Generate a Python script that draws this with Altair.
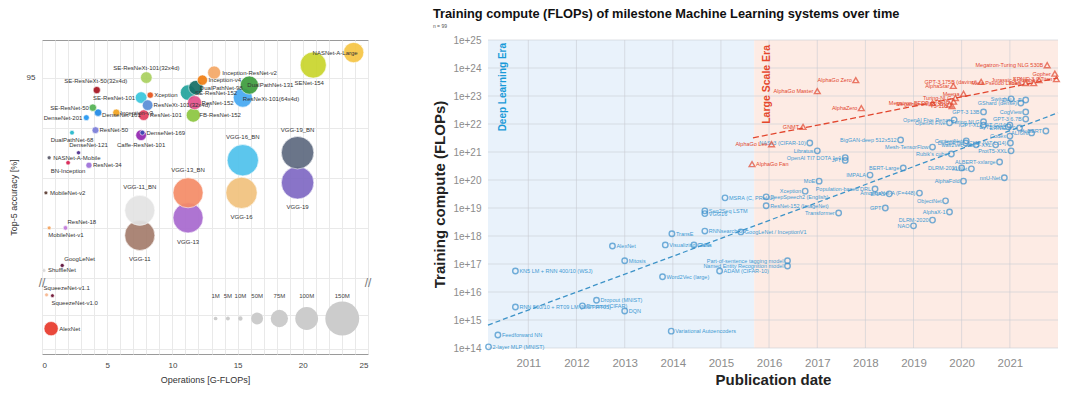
import altair as alt
import pandas as pd

FONT = "Liberation Sans"

# ---------------- Left panel: ImageNet models ----------------
NETS = ["VGG-11", "VGG-13", "VGG-16", "VGG-19", "VGG-11_BN", "VGG-13_BN", "VGG-16_BN", "VGG-19_BN",
        "SENet-154", "NASNet-A-Large", "ResNeXt-101(64x4d)", "DualPathNet-131", "Inception-ResNet-v2",
        "SE-ResNet-152", "DualPathNet-98", "FB-ResNet-152", "ResNet-152", "Inception-v4",
        "AlexNet", "SE-ResNet-101", "SE-ResNeXt-101(32x4d)", "Caffe-ResNet-101", "ResNet-101",
        "ResNeXt-101(32x4d)", "DenseNet-161", "SE-ResNet-50", "SE-ResNeXt-50(32x4d)", "Inception-v3",
        "ResNet-50", "Xception", "ResNet-34", "DenseNet-201", "DenseNet-169", "DualPathNet-68",
        "ResNet-18", "BN-Inception", "DenseNet-121", "GoogLeNet", "NASNet-A-Mobile", "MobileNet-v1",
        "MobileNet-v2", "ShuffleNet", "SqueezeNet-v1.0", "SqueezeNet-v1.1"]
OPS = [7.5, 11.2, 15.3, 19.6, 7.5, 11.2, 15.4, 19.6,
       20.8, 23.9, 15.4, 15.9, 13.2,
       11.2, 11.8, 11.6, 11.7, 12.3,
       0.7, 7.6, 8.0, 7.6, 7.8,
       8.1, 4.3, 3.9, 4.2, 5.7,
       4.1, 8.3, 3.6, 3.4, 7.7, 2.3,
       1.8, 2.0, 2.8, 1.55, 0.55, 0.55,
       0.3, 0.15, 0.8, 0.35]
ACC = [88.7, 89.4, 90.4, 90.8, 89.7, 90.4, 91.7, 92.0,
       95.5, 96.0, 94.2, 94.7, 95.2,
       94.4, 94.6, 93.5, 94.0, 94.9,
       78.7, 94.2, 95.0, 92.7, 93.5,
       93.9, 93.6, 93.8, 94.5, 93.6,
       92.9, 94.3, 91.5, 93.4, 92.8, 92.8,
       89.0, 91.6, 92.0, 87.5, 91.8, 89.0,
       90.4, 87.3, 80.65, 80.7]
PARAMS = [132.9, 133.0, 138.4, 143.7, 132.9, 133.0, 138.4, 143.7,
          115.1, 88.8, 83.5, 79.3, 55.8,
          66.8, 61.6, 60.3, 60.2, 42.7,
          61.0, 49.3, 49.0, 44.5, 44.5,
          44.2, 28.7, 28.1, 27.6, 27.2,
          25.6, 22.9, 21.8, 20.0, 14.1, 12.6,
          11.7, 11.3, 8.0, 7.0, 5.3, 4.2,
          3.5, 2.3, 1.2, 1.2]
PALETTE = ["#a47c6c", "#a869cf", "#f1c27d", "#7f69c4", "#e3e3e3", "#f58b67", "#4fc2ec", "#5e6a80",
           "#c9d52c", "#f6c544", "#45a9f3", "#3c9c3c", "#f5a866",
           "#22a39c", "#156e66", "#8cc63f", "#e3518b", "#f07d12",
           "#e8392b", "#38c6dc", "#aad15f", "#9325b0", "#e1405f",
           "#5a8dd6", "#1e88e5", "#52b152", "#a5121f", "#f2a21e",
           "#7b7dd9", "#e65219", "#9d6fd9", "#2196f3", "#3b4bb3", "#22b8cc",
           "#c27bd9", "#d81f4f", "#4b2b8c", "#5c0c36", "#585868", "#f4a25c",
           "#5b3b31", "#d9d9d9", "#6c0e2f", "#f7b58b"]

LEGEND_M = [1, 5, 10, 50, 75, 100, 150]
LEGEND_TXT = ["1M", "5M", "10M", "50M", "75M", "100M", "150M"]

X_GRID = list(range(26))
Y_GRID = [77.5 + 0.5 * i for i in range(8)] + [87 + 0.5 * i for i in range(20)]

# label placement (align, dx, dy) — style only
LABEL_STYLE = {
    "SE-ResNeXt-101(32x4d)": ("center", 0, -10), "SE-ResNeXt-50(32x4d)": ("center", -1, -9),
    "SE-ResNet-101": ("right", -6, 0), "SE-ResNet-50": ("right", -4, 0), "DenseNet-201": ("right", -4, 0),
    "NASNet-A-Large": ("right", 4, 0), "DenseNet-121": ("center", 10, -8),
    "Caffe-ResNet-101": ("center", 0, 10), "DualPathNet-68": ("center", 0, 7), "BN-Inception": ("center", 0, 8),
    "SENet-154": ("center", -4, 18), "ResNet-18": ("left", 2, -6), "GoogLeNet": ("left", 2, -6),
    "SqueezeNet-v1.1": ("left", -3, -7), "MobileNet-v1": ("left", -1, 7), "SqueezeNet-v1.0": ("left", -1, 7),
    "VGG-11_BN": ("center", 0, -23), "VGG-13_BN": ("center", 0, -23), "VGG-16_BN": ("center", 0, -23),
    "VGG-19_BN": ("center", 0, -23), "VGG-11": ("center", 0, 24), "VGG-13": ("center", 0, 24),
    "VGG-16": ("center", 0, 24), "VGG-19": ("center", 0, 24),
    "ResNeXt-101(32x4d)": ("left", 6, 0), "ResNet-101": ("left", 6, 0), "DenseNet-161": ("left", 4, 2),
    "Inception-ResNet-v2": ("left", 8, 0), "Inception-v4": ("left", 6, 0), "DualPathNet-131": ("left", -2, 0),
    "SE-ResNet-152": ("left", 7, 0), "ResNeXt-101(64x4d)": ("left", 0, 1), "ResNet-152": ("left", 7, 0),
    "FB-ResNet-152": ("left", 6, 0), "AlexNet": ("left", 8, 0),
}
DEFAULT_STYLE = ("left", 4, 0)

left_df = pd.DataFrame({"net": NETS, "ops": OPS, "acc": ACC, "params": PARAMS})

xL = alt.X("ops:Q", scale=alt.Scale(domain=[0, 25], nice=False, zero=False),
           axis=alt.Axis(values=X_GRID, labelExpr="datum.value % 5 == 0 ? datum.label : ''",
                         title="Operations [G-FLOPs]", titleFontSize=9, titleFontWeight="normal",
                         titleColor="#333", labelFontSize=8, labelColor="#444", labelPadding=7,
                         titlePadding=6, ticks=False, domain=False, gridColor="#e9e9e9",
                         labelOverlap=False))
yL = alt.Y("acc:Q", scale=alt.Scale(domain=[77.2, 81.4, 86.8, 96.5], range=[314, 243, 243, 0],
                                    nice=False, zero=False),
           axis=alt.Axis(values=Y_GRID,
                         labelExpr="indexof([80, 90, 95], datum.value) >= 0 ? datum.label : ''",
                         title="Top-5 accuracy [%]", titleFontSize=9, titleFontWeight="normal",
                         titleColor="#333", labelFontSize=8, labelColor="#444", labelPadding=7,
                         titlePadding=8, ticks=False, domain=False, gridColor="#e9e9e9",
                         labelOverlap=False))
sizeL = alt.Size("params:Q", scale=alt.Scale(type="pow", exponent=2, domain=[0, 150], range=[14, 1150]),
                 legend=None)

bubbles = alt.Chart(left_df).mark_circle(opacity=0.92, stroke="white", strokeWidth=0.6).encode(
    x=xL, y=yL, size=sizeL,
    color=alt.Color("net:N", scale=alt.Scale(domain=NETS, range=PALETTE), legend=None))

groups = {}
for n in NETS:
    groups.setdefault(LABEL_STYLE.get(n, DEFAULT_STYLE), []).append(n)
label_layers = []
for (al, dx, dy), names in groups.items():
    label_layers.append(
        alt.Chart(left_df).transform_filter(alt.FieldOneOfPredicate(field="net", oneOf=names))
        .mark_text(align=al, dx=dx, dy=dy, fontSize=6, color="#333", baseline="middle")
        .encode(x=xL, y=yL, text="net:N"))

# in-plot size legend: circles laid out side by side from their own diameters
leg_df = pd.DataFrame({"params": LEGEND_M, "txt": LEGEND_TXT})
leg_base = alt.Chart(leg_df).transform_calculate(
    d="2*sqrt((14 + 1136*pow(datum.params/150, 2))/PI)/13",
    g="(8 - 0.045*datum.params)/13"
).transform_calculate(full="datum.d + datum.g").transform_window(
    cum="sum(full)", sort=[alt.SortField("params")]).transform_calculate(
    ops="13.15 + datum.cum - datum.d/2 - datum.g", acc="79.3", lacc="80.65")
leg_circles = leg_base.mark_circle(color="#cccccc", opacity=1).encode(x=xL, y=yL, size=sizeL)
leg_text = leg_base.mark_text(fontSize=6, color="#444").encode(
    x=xL, y=alt.Y("lacc:Q"), text="txt:N")

brk_df = pd.DataFrame({"ops": [0, 25], "acc": [84, 84], "t": ["//", "//"]})
breaks = alt.Chart(brk_df).mark_text(fontSize=12, color="#777").encode(x=xL, y=yL, text="t:N")

left = alt.layer(bubbles, *label_layers, leg_circles, leg_text, breaks).properties(
    width=326, height=314,
    view=alt.ViewBackground(stroke="#9a9a9a", strokeWidth=1, strokeOpacity=1))

# ---------------- Right panel: training compute ----------------
BLUE_NAMES = ["2-layer MLP (MNIST)", "Feedforward NN", "RNN 500/10 + RT09 LM (NIST RT05)",
              "KN5 LM + RNN 400/10 (WSJ)", "Dropout (CIFAR)", "Dropout (MNIST)", "DQN", "Mitosis",
              "AlexNet", "Word2Vec (large)", "Variational Autoencoders", "Visualizing CNNs", "Caffe",
              "TransE", "Seq2Seq LSTM", "VGG16", "RNNsearch-50*", "GoogLeNet / InceptionV1",
              "MSRA (C, PReLU)", "ADAM (CIFAR-10)", "Part-of-sentence tagging model",
              "Named Entity Recognition model", "DeepSpeech2 (English)", "ResNet-152 (ImageNet)",
              "Xception", "Transformer", "NASv3 (CIFAR-10)", "Libratus", "OpenAI TI7 DOTA 1v1", "JFT",
              "MoE", "Population-based DRL", "ENAS", "AmoebaNet-A (F=448)", "GPT", "IMPALA",
              "BERT-Large", "BigGAN-deep 512x512", "Mesh-TensorFlow", "Rubik's cube", "DLRM-2020", "NAO",
              "AlphaX-1", "ObjectNet", "AlphaFold", "ALBERT-xxlarge", "DLRM-2021", "XLNet", "nnU-Net",
              "OpenAI Five", "iGPT-XL", "ViT-G/14", "ERNIE 3.0", "ALIGN", "HuBERT", "Codex",
              "CLIP (ViT L/14)", "ProtT5-XXL", "ContextNet", "wav2vec 2.0", "mT5-XXL", "Switch", "DALL-E",
              "GShard (dense)", "GPT-3 13B", "CogView", "GPT-3 6.7B", "OpenAI Five Rerun", "Turing NLG",
              "ByT5-XXL", "DeBERTa"]
BLUE_DATES = ["2010-03-05", "2010-05-15", "2010-09-25", "2010-09-25", "2012-02-15", "2012-06-01",
              "2013-01-01", "2013-01-01", "2012-09-30", "2013-10-15", "2013-12-20", "2013-11-05",
              "2014-06-10", "2013-12-25", "2014-09-01", "2014-09-01", "2014-09-01", "2015-06-01",
              "2015-02-01", "2014-12-22", "2016-05-20", "2016-05-20", "2015-12-10", "2015-12-10",
              "2016-10-01", "2017-06-12", "2016-11-05", "2017-01-01", "2017-08-01", "2017-08-01",
              "2017-01-15", "2018-03-15", "2018-07-01", "2019-02-15", "2018-06-01", "2018-02-05",
              "2018-10-15", "2018-09-25", "2019-05-25", "2019-10-15", "2019-05-25", "2019-01-01",
              "2019-10-01", "2019-09-01", "2020-01-15", "2020-10-15", "2020-01-01", "2020-03-15",
              "2020-11-20", "2019-10-01", "2020-06-15", "2021-01-01", "2021-03-15", "2021-06-15",
              "2021-10-01", "2021-01-01", "2021-01-05", "2021-01-10", "2020-02-05", "2020-04-20",
              "2020-09-15", "2021-01-10", "2021-05-01", "2021-03-25", "2020-06-15", "2021-05-01",
              "2021-05-01", "2019-11-05", "2020-06-15", "2020-12-20", "2020-02-01"]
BLUE_FLOPS = [1.1e14, 2.9e14, 2.9e15, 5.6e16, 3.2e15, 5.1e15, 2.1e15, 1.3e17, 4.4e17, 3.5e16,
              4.0e14, 4.8e17, 4.8e17, 1.2e18, 7.9e18, 6.3e18, 1.5e18, 1.4e18, 2.3e19, 5.6e16,
              1.3e17, 8.5e16, 2.5e19, 1.2e19, 4.0e19, 6.6e18, 2.1e21, 1.1e21, 6.3e20, 5.0e20,
              9.1e19, 4.8e19, 3.2e19, 3.4e19, 1.0e19, 1.5e20, 2.7e20, 2.7e21, 1.5e21, 8.5e20,
              3.7e18, 2.3e18, 7.2e18, 1.8e19, 9.1e19, 4.4e20, 2.7e20, 2.5e20, 1.2e20, 1.1e22,
              9.1e21, 9.1e21, 7.2e21, 4.8e21, 5.6e21, 3.7e21, 2.1e21, 1.1e21, 2.5e21, 1.8e21,
              1.8e21, 7.9e22, 7.2e22, 5.6e22, 2.7e22, 2.7e22, 1.5e22, 1.4e22, 1.2e22, 7.9e21,
              2.1e21]
BLUE_RIGHT = BLUE_NAMES[:20] + ["DeepSpeech2 (English)", "ResNet-152 (ImageNet)"]

RED_NAMES = ["AlphaGo Fan", "AlphaGo Lee", "GNMT", "AlphaGo Master", "AlphaGo Zero", "AlphaZero",
             "Megatron-BERT", "Megatron-LM (8.3B)", "T5-11B", "T5-3B", "Turing-NLG", "Meena",
             "AlphaStar", "GPT-3 175B (davinci)", "Meta Pseudo Labels", "Yuan 1.0", "Jurassic-1-Jumbo",
             "Gopher", "Megatron-Turing NLG 530B", "ERNIE 3.0 Titan"]
RED_DATES = ["2015-08-25", "2016-01-20", "2016-09-15", "2017-01-01", "2017-10-20", "2017-12-01",
             "2019-05-25", "2019-10-01", "2019-10-20", "2019-11-01", "2019-11-15", "2020-01-15",
             "2019-10-30", "2020-05-28", "2021-05-01", "2021-07-01", "2021-08-10", "2021-12-08",
             "2021-10-11", "2021-12-20"]
RED_FLOPS = [3.7e20, 1.9e21, 7.9e21, 1.5e23, 3.7e23, 3.7e22, 5.6e22, 5.0e22, 4.4e22, 6.3e22,
             8.5e22, 1.2e23, 2.3e23, 3.2e23, 2.9e23, 2.9e23, 3.7e23, 6.3e23, 1.26e24, 4.0e23]
RED_RIGHT = ["AlphaGo Fan"]

TREND_BLUE_DATES = ["2010-03-01", "2022-01-01"]
TREND_BLUE_FLOPS = [6.6e14, 2.5e22]
TREND_RED_DATES = ["2015-09-01", "2022-01-01"]
TREND_RED_FLOPS = [3.2e21, 4.4e23]

ERA_NAMES = ["Deep Learning Era", "Large Scale Era"]
ERA_START = ["2010-03-01", "2015-09-10"]
ERA_END = ["2015-09-10", "2022-01-01"]
ERA_FILL = ["#e9f2fb", "#fdebe4"]

YEAR_TICKS = list(range(2011, 2022))
DECADES = [10.0 ** e for e in range(14, 26)]

BLUE = "#3b8fcb"
BLUE_TXT = "#3f9ad3"
RED = "#e2462e"

x_scale_R = alt.Scale(domain=[alt.DateTime(year=2010, month=3, date=1),
                              alt.DateTime(year=2022, month=1, date=1)])
x_axis_R = alt.Axis(values=[alt.DateTime(year=y, month=1, date=1) for y in YEAR_TICKS],
                    format="%Y", grid=False, ticks=False, domain=False,
                    title="Publication date", titleFontSize=15, titleFontWeight="bold",
                    titleColor="#222", labelFontSize=11.5, labelColor="#8c8c8c",
                    labelPadding=9, titlePadding=4, labelOverlap=False)
xR = alt.X("date:T", scale=x_scale_R, axis=x_axis_R)
yR = alt.Y("flops:Q", scale=alt.Scale(type="log", domain=[1e14, 1e25], nice=False),
           axis=alt.Axis(values=DECADES, labelExpr="'1e+' + round(log(datum.value)/LN10)",
                         grid=False, ticks=False, domain=False,
                         title="Training compute (FLOPs)", titleFontSize=15, titleFontWeight="bold",
                         titleColor="#222", labelFontSize=10, labelColor="#8c8c8c",
                         labelPadding=7, titlePadding=5, labelOverlap=False))

era_df = pd.DataFrame({"era": ERA_NAMES, "start": ERA_START, "end": ERA_END})
era_rects = [
    alt.Chart(era_df).transform_filter(alt.datum.era == ERA_NAMES[i]).mark_rect(color=ERA_FILL[i])
    .encode(x=alt.X("start:T", scale=x_scale_R, axis=x_axis_R), x2="end:T")
    for i in range(2)
]

vgrid = alt.Chart(pd.DataFrame({"date": [f"{y}-01-01" for y in YEAR_TICKS]})).mark_rule(
    color="#c9cdd4", strokeWidth=0.8, opacity=0.75).encode(x=xR)
hgrid = alt.Chart(pd.DataFrame({"flops": DECADES})).mark_rule(
    color="#c9cdd4", strokeWidth=0.8, opacity=0.75).encode(y=yR)

era_dl = alt.Chart(era_df).transform_filter(alt.datum.era == ERA_NAMES[0]).mark_text(
    angle=270, align="right", baseline="middle", dx=-3, dy=15, fontSize=10, fontWeight="bold",
    color="#1a9ad8").encode(x=alt.X("start:T"), y=alt.YDatum(1e25), text="era:N")
era_ls = alt.Chart(era_df).transform_filter(alt.datum.era == ERA_NAMES[1]).mark_text(
    angle=270, align="right", baseline="middle", dx=-5, dy=13, fontSize=10.5, fontWeight="bold",
    color="#e5472b").encode(x=alt.X("start:T"), y=alt.YDatum(1e25), text="era:N")

tb_df = pd.DataFrame({"date": TREND_BLUE_DATES, "flops": TREND_BLUE_FLOPS})
tr_df = pd.DataFrame({"date": TREND_RED_DATES, "flops": TREND_RED_FLOPS})
trend_b = alt.Chart(tb_df).mark_line(color="#3d93c8", strokeDash=[5, 3], strokeWidth=1.3).encode(x=xR, y=yR)
trend_r = alt.Chart(tr_df).mark_line(color=RED, strokeDash=[6, 3], strokeWidth=1.3).encode(x=xR, y=yR)

blue_df = pd.DataFrame({"name": BLUE_NAMES, "date": BLUE_DATES, "flops": BLUE_FLOPS})
red_df = pd.DataFrame({"name": RED_NAMES, "date": RED_DATES, "flops": RED_FLOPS})

blue_pts = alt.Chart(blue_df).mark_point(shape="circle", filled=False, size=30, strokeWidth=1.4,
                                         color=BLUE).encode(x=xR, y=yR)
red_pts = alt.Chart(red_df).mark_point(shape="triangle-up", filled=False, size=34, strokeWidth=1.4,
                                       color=RED).encode(x=xR, y=yR)
b_right = alt.Chart(blue_df).transform_filter(alt.FieldOneOfPredicate(field="name", oneOf=BLUE_RIGHT)) \
    .mark_text(align="left", dx=4, fontSize=5.5, color=BLUE_TXT).encode(x=xR, y=yR, text="name:N")
b_left = alt.Chart(blue_df).transform_filter(
    ~alt.FieldOneOfPredicate(field="name", oneOf=BLUE_RIGHT)) \
    .mark_text(align="right", dx=-4, fontSize=5.5, color=BLUE_TXT).encode(x=xR, y=yR, text="name:N")
r_right = alt.Chart(red_df).transform_filter(alt.FieldOneOfPredicate(field="name", oneOf=RED_RIGHT)) \
    .mark_text(align="left", dx=4, fontSize=5.5, color=RED).encode(x=xR, y=yR, text="name:N")
r_left = alt.Chart(red_df).transform_filter(~alt.FieldOneOfPredicate(field="name", oneOf=RED_RIGHT)) \
    .mark_text(align="right", dx=-4, fontSize=5.5, color=RED).encode(x=xR, y=yR, text="name:N")

right = alt.layer(*era_rects, vgrid, hgrid, era_dl, era_ls, trend_b, trend_r,
                  b_right, b_left, r_right, r_left, blue_pts, red_pts).properties(
    width=570, height=308,
    title=alt.TitleParams(text="Training compute (FLOPs) of milestone Machine Learning systems over time",
                          subtitle="n = 99", anchor="start", frame="bounds", fontSize=12.8,
                          fontWeight="bold", color="#111", subtitleFontSize=5, subtitleColor="#555",
                          subtitlePadding=3, offset=6),
    view=alt.ViewBackground(strokeOpacity=0))

chart = alt.hconcat(left, right, spacing=60).resolve_scale(
    color="independent", size="independent").properties(padding=0).configure(
    font=FONT).configure_view(strokeOpacity=0)

chart.save("out.html", embed_options={"renderer": "svg", "actions": False})
